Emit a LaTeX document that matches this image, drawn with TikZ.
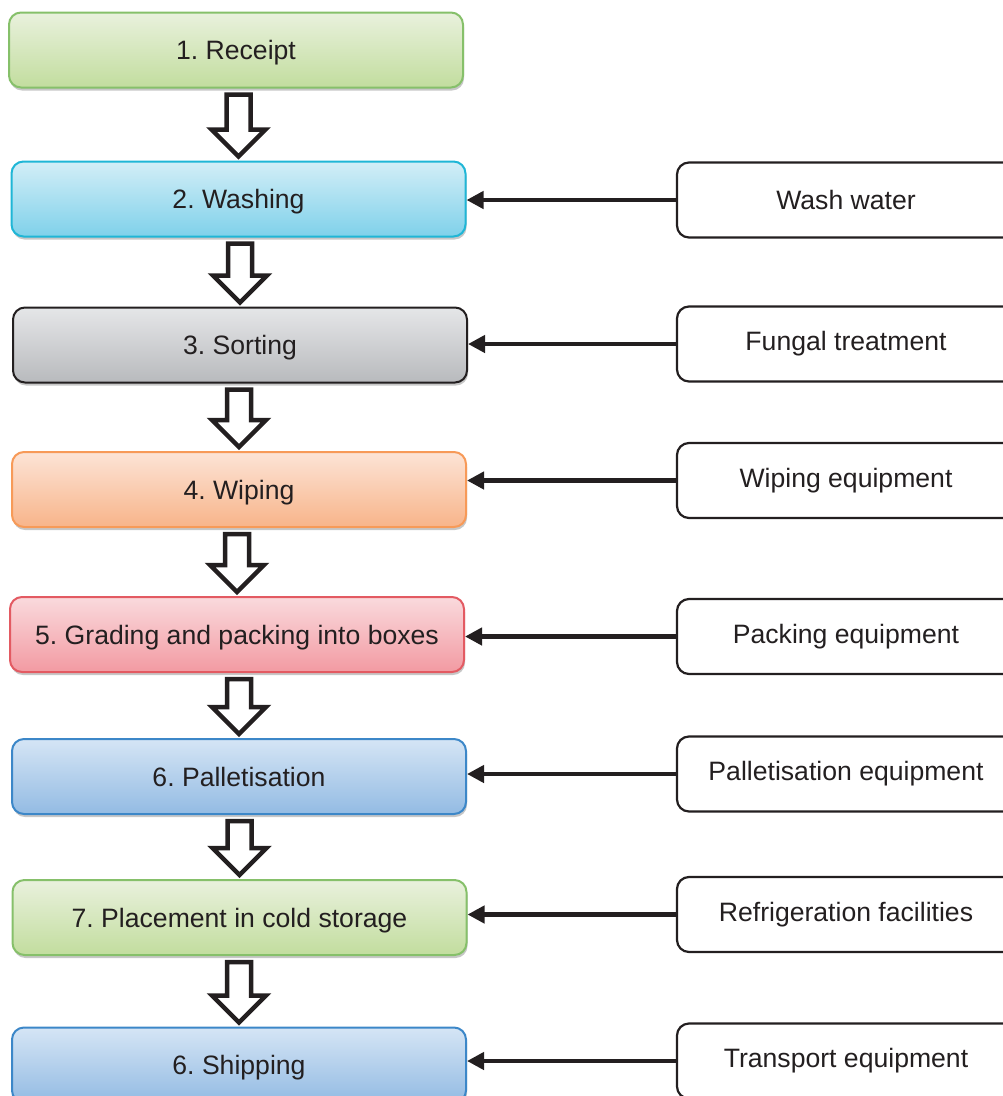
\documentclass[tikz,border=0pt]{standalone}
\usepackage{fontspec}
\setmainfont{Liberation Sans}
\frenchspacing
\usetikzlibrary{arrows.meta,shadows,calc}
\definecolor{txt}{HTML}{231F20}
\definecolor{gTop}{HTML}{E9F1DD}\definecolor{gBot}{HTML}{C2DD9E}\definecolor{gBrd}{HTML}{86C06A}
\definecolor{cTop}{HTML}{D3EEF7}\definecolor{cBot}{HTML}{7FD1EA}\definecolor{cBrd}{HTML}{1FB6D6}
\definecolor{kTop}{HTML}{E5E6E8}\definecolor{kBot}{HTML}{B8BABD}\definecolor{kBrd}{HTML}{231F20}
\definecolor{oTop}{HTML}{FCE4D6}\definecolor{oBot}{HTML}{F8B48A}\definecolor{oBrd}{HTML}{F79A58}
\definecolor{rTop}{HTML}{FADADD}\definecolor{rBot}{HTML}{F29AA2}\definecolor{rBrd}{HTML}{E35A62}
\definecolor{bTop}{HTML}{D5E5F5}\definecolor{bBot}{HTML}{93BBE3}\definecolor{bBrd}{HTML}{3C87C8}
\tikzset{
  lbox/.style={rectangle, rounded corners=12pt, minimum width=454pt, minimum height=75pt,
    inner sep=0pt, line width=2pt, text=txt, font=\fontsize{26.6}{30}\selectfont,
    text height=19pt, text depth=0pt,
    drop shadow={shadow xshift=1pt, shadow yshift=-3pt, fill=black!22, opacity=1}},
  green/.style={lbox, draw=gBrd, top color=gTop, bottom color=gBot},
  cyan/.style={lbox, draw=cBrd, top color=cTop, bottom color=cBot},
  grey/.style={lbox, draw=kBrd, top color=kTop, bottom color=kBot},
  orange/.style={lbox, draw=oBrd, top color=oTop, bottom color=oBot},
  red/.style={lbox, draw=rBrd, top color=rTop, bottom color=rBot},
  blue/.style={lbox, draw=bBrd, top color=bTop, bottom color=bBot},
  rbox/.style={rectangle, rounded corners=12pt, minimum width=338pt, minimum height=75pt,
    inner sep=0pt, line width=2.2pt, draw=txt, fill=white, text=txt,
    font=\fontsize{26.6}{30}\selectfont},
  harrow/.style={line width=4.5pt, draw=txt, -{Triangle[length=17pt,width=17pt]}},
  blockarrow/.style={line width=4.5pt, draw=txt, fill=white, line join=miter},
}
\newcommand{\blockarr}[2]{%
  \draw[blockarrow] let \p1=(#1.south), \p2=(#2.north) in
    (\x2-12,\y1-6) -- (\x2+12,\y1-6) -- (\x2+12,\y2+31) -- (\x2+27,\y2+31)
    -- (\x2,\y2+4) -- (\x2-27,\y2+31) -- (\x2-12,\y2+31) -- cycle;}
\begin{document}
\begin{tikzpicture}[x=1pt,y=-1pt]
\useasboundingbox (0,0) rectangle (1003,1096);
% left process boxes
\node[green]  (l1) at (236,50)    {1. Receipt};
\node[cyan]   (l2) at (238.5,199) {2. Washing};
\node[grey]   (l3) at (240,345)   {3. Sorting};
\node[orange] (l4) at (239,489.5) {4. Wiping};
\node[red]    (l5) at (237,634.5) {5. Grading and packing into boxes};
\node[blue]   (l6) at (239,776.5) {6. Palletisation};
\node[green]  (l7) at (239.5,917.5) {7. Placement in cold storage};
\node[blue]   (l8) at (239,1065)  {6. Shipping};
% right input boxes
\node[rbox] (r2) at (846,200)   {Wash water};
\node[rbox] (r3) at (846,344)   {Fungal treatment};
\node[rbox] (r4) at (846,480.5) {Wiping equipment};
\node[rbox] (r5) at (846,636.5) {Packing equipment};
\node[rbox] (r6) at (846,774)   {Palletisation equipment};
\node[rbox] (r7) at (846,914.5) {Refrigeration facilities};
\node[rbox] (r8) at (846,1061)  {Transport equipment};
% block arrows
\blockarr{l1}{l2}
\blockarr{l2}{l3}
\blockarr{l3}{l4}
\blockarr{l4}{l5}
\blockarr{l5}{l6}
\blockarr{l6}{l7}
\blockarr{l7}{l8}
% input arrows
\foreach \i in {2,...,8}{
  \draw[harrow] (r\i.west) -- (l\i.east |- r\i.west);
}
\end{tikzpicture}
\end{document}
